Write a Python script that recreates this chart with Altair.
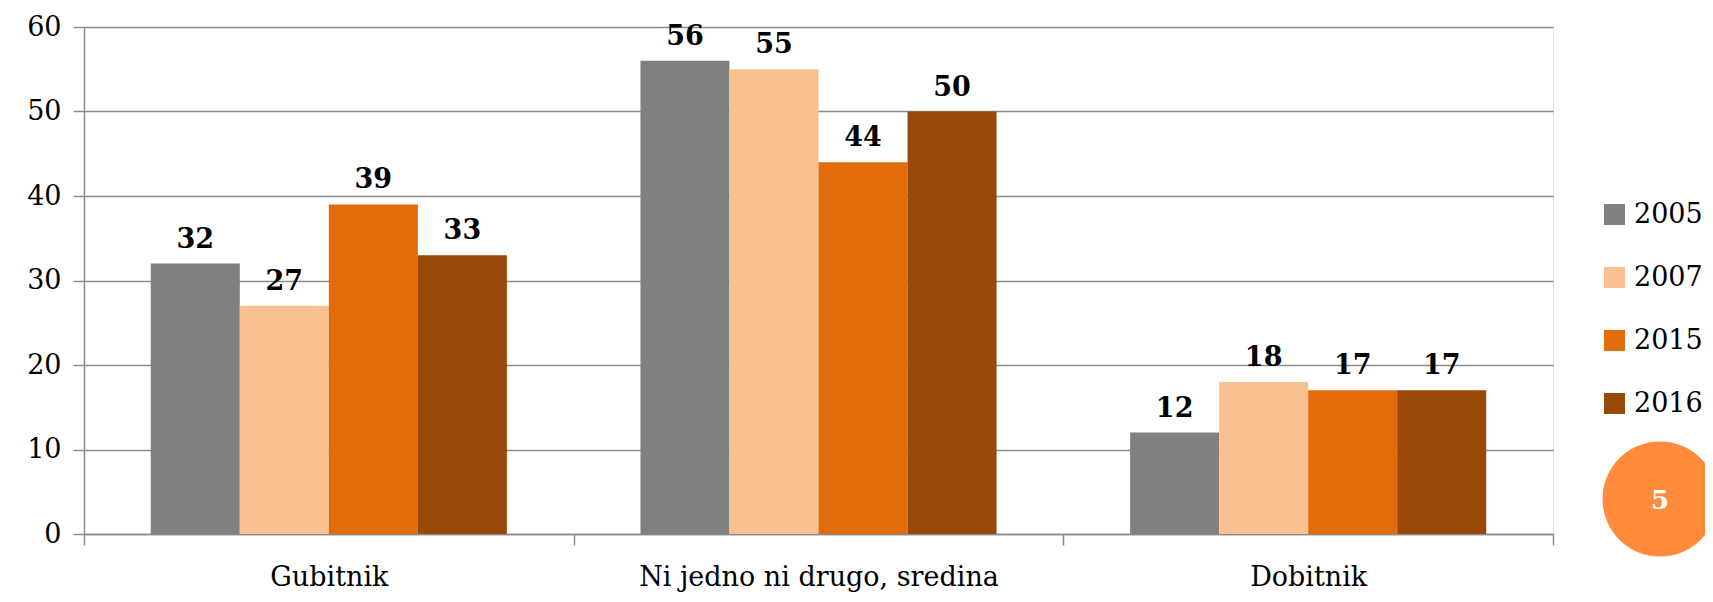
import altair as alt
import pandas as pd

categories = ["Gubitnik", "Ni jedno ni drugo, sredina", "Dobitnik"]
years = ["2005", "2007", "2015", "2016"]
v2005 = [32, 56, 12]
v2007 = [27, 55, 18]
v2015 = [39, 44, 17]
v2016 = [33, 50, 17]
colors = ["#808080", "#F9C192", "#E36C0A", "#984807"]
slide_number = ["5"]

rows = []
for yr, vals in zip(years, [v2005, v2007, v2015, v2016]):
    for c, v in zip(categories, vals):
        rows.append({"category": c, "year": yr, "value": v})
df = pd.DataFrame(rows)

FONT = "DejaVu Serif"
W, H = 1469, 507

x = alt.X("category:N", sort=categories, title=None,
          scale=alt.Scale(paddingInner=0, paddingOuter=0),
          axis=alt.Axis(tickBand="extent", labelAngle=0, labelFontSize=27,
                        labelPadding=19, tickSize=11, tickColor="#8c8c8c",
                        domainColor="#8c8c8c", domainWidth=1.5, tickWidth=1.5,
                        labelColor="#000000", labelFont=FONT, labelLimit=0))
xo = alt.XOffset("year:N", sort=years, scale=alt.Scale(paddingInner=0, paddingOuter=0.75))
y = alt.Y("value:Q", title=None,
          scale=alt.Scale(domain=[0, 60]),
          axis=alt.Axis(values=[0, 10, 20, 30, 40, 50, 60], labelFontSize=27,
                        tickSize=11, labelPadding=12, tickColor="#8c8c8c",
                        domainColor="#8c8c8c", gridColor="#8c8c8c",
                        gridWidth=1.5, domainWidth=1.5, tickWidth=1.5,
                        labelColor="#000000", labelFont=FONT))

color = alt.Color("year:N", sort=years,
                  scale=alt.Scale(domain=years, range=colors),
                  legend=alt.Legend(title=None, orient="none", legendX=1517,
                                    legendY=174, symbolType="square",
                                    symbolSize=441, symbolStrokeWidth=0,
                                    labelFontSize=27, labelFont=FONT,
                                    labelColor="#000000", rowPadding=35,
                                    labelOffset=6))

bars = alt.Chart(df).mark_bar(stroke=None).encode(x=x, xOffset=xo, y=y, color=color)
labels = alt.Chart(df).mark_text(baseline="bottom", dy=-10, fontSize=27,
                                 fontWeight="bold", font=FONT, color="#000000").encode(
    x=alt.X("category:N", sort=categories),
    xOffset=alt.XOffset("year:N", sort=years),
    y="value:Q", text="value:Q")

badge_df = pd.DataFrame({"label": slide_number})
circle = alt.Chart(badge_df).mark_circle(color="#FF8B3B", opacity=1, size=13225).encode(
    x=alt.value(1576), y=alt.value(472))
badge_text = alt.Chart(badge_df).mark_text(color="white", fontSize=26, fontWeight="bold",
                                           font=FONT, baseline="middle").encode(
    x=alt.value(1576), y=alt.value(474), text="label:N")

chart = alt.layer(bars, labels, circle, badge_text).properties(
    width=W, height=H,
    autosize=alt.AutoSizeParams(type="none"),
    padding={"left": 76, "top": 19, "right": 152, "bottom": 60},
).configure_view(stroke=None).configure(font=FONT)

chart.save("out.html", embed_options={"renderer": "svg", "actions": False})
